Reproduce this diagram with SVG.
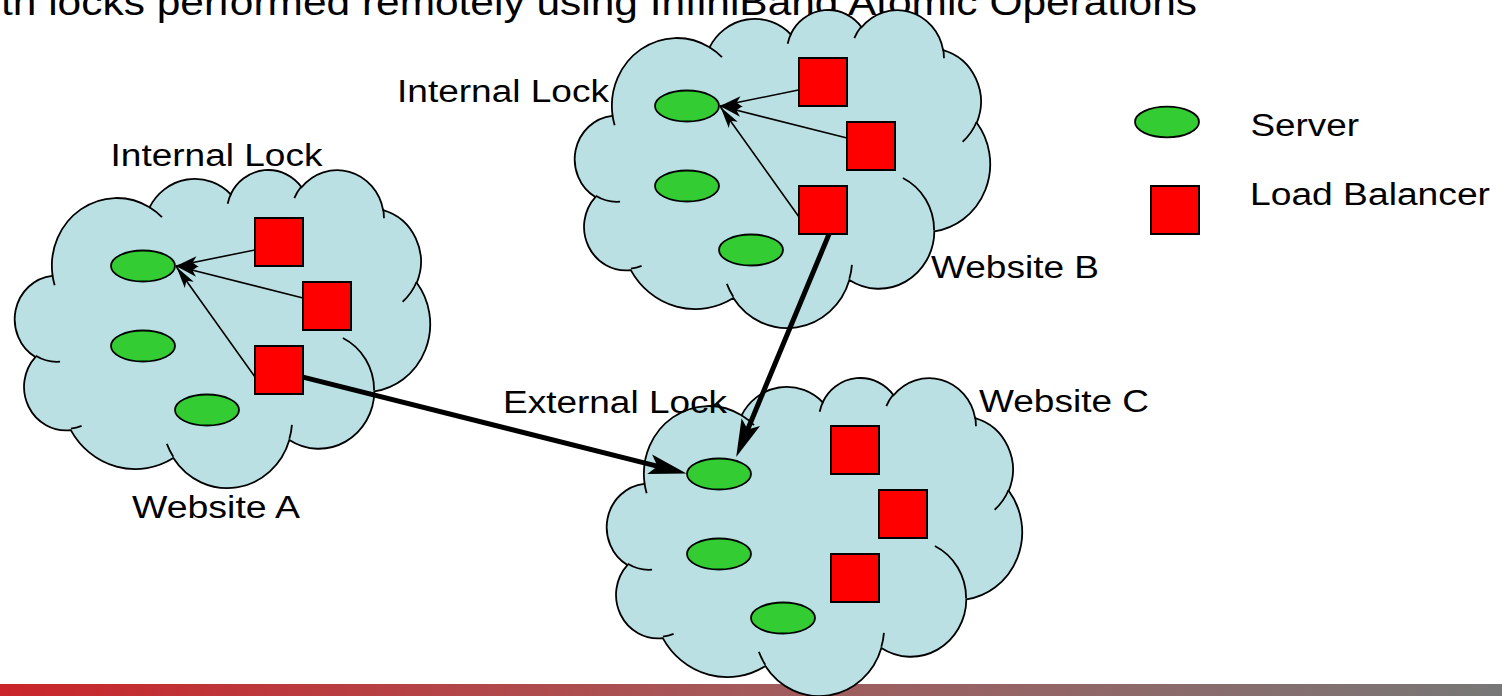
<svg xmlns="http://www.w3.org/2000/svg" xmlns:xlink="http://www.w3.org/1999/xlink" width="1502" height="696" viewBox="0 0 1502 696">
  <style>
    .txt { font-family: "Liberation Sans", Arial, sans-serif; font-size: 31px; fill: #000; }
    .title { font-size: 36px; }
    .cloud-body { fill: #BAE0E3; stroke: #000; stroke-width: 1.8; vector-effect: non-scaling-stroke; }
    .cloud-inner { fill: none; stroke: #000; stroke-width: 1.8; vector-effect: non-scaling-stroke; }
    .server { fill: #33CC33; stroke: #000; stroke-width: 1.8; }
    .lb { fill: #FF0000; stroke: #000; stroke-width: 2; }
    .thin { stroke: #000; stroke-width: 1.6; fill: none; marker-end: url(#head-thin); }
    .thick { stroke: #000; stroke-width: 5; fill: none; marker-end: url(#head-thick); }
  </style>
  <defs>
    <linearGradient id="bar-grad" x1="0" y1="0" x2="1" y2="0">
      <stop offset="0" stop-color="#C9252A"/>
      <stop offset="0.5" stop-color="#A45A5B"/>
      <stop offset="1" stop-color="#777777"/>
    </linearGradient>
    <marker id="head-thin" markerUnits="userSpaceOnUse" markerWidth="24" markerHeight="14" viewBox="0 0 24 14" refX="22" refY="7" orient="auto" overflow="visible">
      <path d="M0,1.5 L22,7 L0,12.5 L5,7 Z" fill="#000"/>
    </marker>
    <marker id="head-thick" markerUnits="userSpaceOnUse" markerWidth="40" markerHeight="24" viewBox="0 0 40 24" refX="20" refY="12" orient="auto" overflow="visible">
      <path d="M0,2 L38,12 L0,22 L8,12 Z" fill="#000"/>
    </marker>
    <!-- cloud outline in a 43200 x 43200 unit box -->
    <g id="cloud">
      <path class="cloud-body" d="M3900,14370 A6753,9190 0 0 1 14005.5,5202.4 A5333,7267 0 0 1 22457.2,3431 A4365,5945 0 0 1 29834.6,2480.2 A4857,6595 0 0 1 38320,5575.1 A5333,7273 0 0 1 41820.5,15458.9 A6775,9220 0 0 1 37406.2,30201.5 A5785,7867 0 0 1 28558.3,36812.1 A6752,9215 0 0 1 16483.2,39264.9 A7720,10543 0 0 1 5808.2,35474.5 A4360,5918 0 0 1 2117.7,25551.7 A4345,5945 0 0 1 3868.1,14508.5 Z"/>
      <path class="cloud-inner" d="M4693,26177 A4345,5945 0 0 1 2159.3,25379.6 M6928,34899 A4360,5918 0 0 1 5819.4,35280.5 M16478,39090 A6752,9215 0 0 1 15809.7,37348.9 M28827,34751 A6752,9215 0 0 1 28560.5,36659.8 M34129,22954 A5785,7867 0 0 1 37380.3,30089.5 M41798,15354 A5333,7273 0 0 1 40349.6,18030.6 M38324,5426 A4857,6595 0 0 1 38400.4,6689.5 M29078,3952 A4857,6595 0 0 1 29819.7,2339.8 M22141,4720 A4365,5945 0 0 1 22500.1,3329.9 M14000,5192 A6753,9190 0 0 1 15299.8,6540.4 M4127,15789 A6753,9190 0 0 1 3900.1,14369.8"/>
    </g>
  </defs>

  <rect width="1502" height="696" fill="#FFFFFF"/>

  <!-- footer bar -->
  <rect id="footer-bar" x="0" y="684" width="1502" height="12" fill="url(#bar-grad)"/>

  <!-- title line -->
  <text class="txt title" x="1" y="15" textLength="1196" lengthAdjust="spacingAndGlyphs">th locks performed remotely using InfiniBand Atomic Operations</text>

  <!-- websites -->
  <g id="website-a">
    <use xlink:href="#cloud" transform="translate(15,169) scale(0.0096065,0.0073611)"/>
  </g>
  <g id="website-b">
    <use xlink:href="#cloud" transform="translate(575,9) scale(0.0096065,0.0073611)"/>
  </g>
  <g id="website-c">
    <use xlink:href="#cloud" transform="translate(607,377) scale(0.0096065,0.0073611)"/>
  </g>

  <!-- connectors -->
  <g id="connectors">
    <line class="thin" x1="258" y1="249.3" x2="176" y2="266"/>
    <line class="thin" x1="306" y1="298.8" x2="176" y2="266"/>
    <line class="thin" x1="257" y1="379.8" x2="176.5" y2="267"/>
    <line class="thin" x1="802" y1="89.3" x2="720" y2="106"/>
    <line class="thin" x1="850" y1="138.8" x2="720" y2="106"/>
    <line class="thin" x1="801" y1="219.8" x2="720.5" y2="107"/>
    <line class="thick" x1="298" y1="375.8" x2="669.1" y2="469.1"/>
    <line class="thick" x1="831" y1="229.4" x2="743.1" y2="440.5"/>
  </g>

  <!-- servers and load balancers, website A -->
  <g id="a-server-1"><ellipse class="server" cx="143" cy="266" rx="32" ry="15.5"/></g>
  <g id="a-server-2"><ellipse class="server" cx="143" cy="346" rx="32" ry="15.5"/></g>
  <g id="a-server-3"><ellipse class="server" cx="207" cy="410" rx="32" ry="15.5"/></g>
  <g id="a-lb-1"><rect class="lb" x="255" y="218" width="48" height="48"/></g>
  <g id="a-lb-2"><rect class="lb" x="303" y="282" width="48" height="48"/></g>
  <g id="a-lb-3"><rect class="lb" x="255" y="346" width="48" height="48"/></g>

  <!-- website B -->
  <g id="b-server-1"><ellipse class="server" cx="687" cy="106" rx="32" ry="15.5"/></g>
  <g id="b-server-2"><ellipse class="server" cx="687" cy="186" rx="32" ry="15.5"/></g>
  <g id="b-server-3"><ellipse class="server" cx="751" cy="250" rx="32" ry="15.5"/></g>
  <g id="b-lb-1"><rect class="lb" x="799" y="58" width="48" height="48"/></g>
  <g id="b-lb-2"><rect class="lb" x="847" y="122" width="48" height="48"/></g>
  <g id="b-lb-3"><rect class="lb" x="799" y="186" width="48" height="48"/></g>

  <!-- website C -->
  <g id="c-server-1"><ellipse class="server" cx="719" cy="474" rx="32" ry="15.5"/></g>
  <g id="c-server-2"><ellipse class="server" cx="719" cy="554" rx="32" ry="15.5"/></g>
  <g id="c-server-3"><ellipse class="server" cx="783" cy="618" rx="32" ry="15.5"/></g>
  <g id="c-lb-1"><rect class="lb" x="831" y="426" width="48" height="48"/></g>
  <g id="c-lb-2"><rect class="lb" x="879" y="490" width="48" height="48"/></g>
  <g id="c-lb-3"><rect class="lb" x="831" y="554" width="48" height="48"/></g>

  <!-- legend -->
  <g id="legend-server">
    <ellipse class="server" cx="1167" cy="122" rx="32" ry="15.3"/>
    <text class="txt" x="1250.5" y="135.5" textLength="108.5" lengthAdjust="spacingAndGlyphs">Server</text>
  </g>
  <g id="legend-lb">
    <rect class="lb" x="1151" y="186" width="48" height="48"/>
    <text class="txt" x="1250" y="205" textLength="240" lengthAdjust="spacingAndGlyphs">Load Balancer</text>
  </g>

  <!-- labels -->
  <g id="labels">
    <text class="txt" x="110.5" y="166" textLength="212" lengthAdjust="spacingAndGlyphs">Internal Lock</text>
    <text class="txt" x="397" y="101.7" textLength="212" lengthAdjust="spacingAndGlyphs">Internal Lock</text>
    <text class="txt" x="503" y="412.7" textLength="224" lengthAdjust="spacingAndGlyphs">External Lock</text>
    <text class="txt" x="132" y="518" textLength="168" lengthAdjust="spacingAndGlyphs">Website A</text>
    <text class="txt" x="931" y="278" textLength="168" lengthAdjust="spacingAndGlyphs">Website B</text>
    <text class="txt" x="979" y="412" textLength="170" lengthAdjust="spacingAndGlyphs">Website C</text>
  </g>
</svg>
